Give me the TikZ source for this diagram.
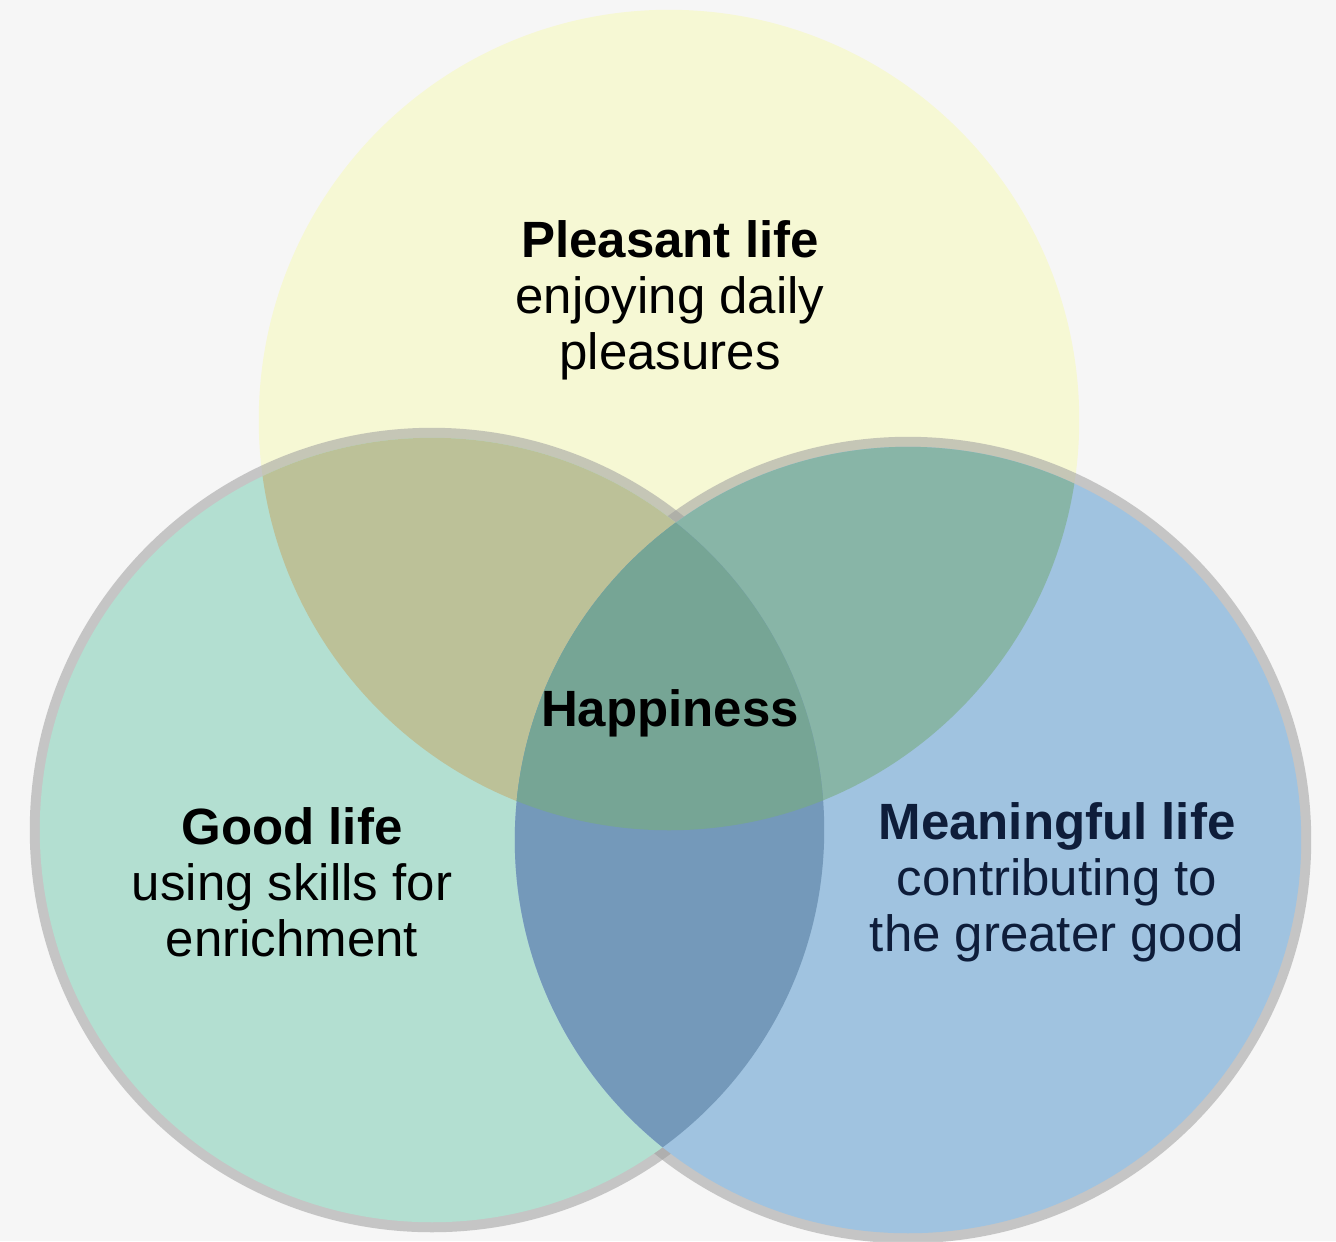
\documentclass[tikz,border=0pt]{standalone}
\usepackage{fontspec}
\setmainfont{Liberation Sans}
\usepackage{xcolor}
\usepackage{tikz}
\usetikzlibrary{positioning}

\definecolor{paper}{HTML}{F6F6F6}
\definecolor{pleasantFill}{HTML}{F6F8D4}
\definecolor{goodFill}{HTML}{B3DFD1}
\definecolor{meaningFill}{HTML}{A0C3E0}
\definecolor{pleasGood}{HTML}{BCC198}
\definecolor{pleasMean}{HTML}{88B5A7}
\definecolor{goodMean}{HTML}{7499BA}
\definecolor{allThree}{HTML}{76A595}
\definecolor{ringGray}{HTML}{9E9E9E}
\definecolor{navyText}{HTML}{0E1D3A}

\begin{document}
\begin{tikzpicture}[
  x=0.01cm, y=-0.01cm,
  lbl/.style={align=center, inner sep=1pt,
              font=\fontsize{14.5}{15.9}\selectfont},
  ring/.style={fill=ringGray, fill opacity=0.55},
]

% ================= canvas =================
\useasboundingbox[fill=paper] (0,0) rectangle (1336,1241);

\coordinate (cP) at (669,420);   % pleasant life
\coordinate (cG) at (432,830);   % good life
\coordinate (cM) at (908,840);   % meaningful life

% ================= the three sets =================
\fill[pleasantFill] (cP) circle[radius=4.10cm];

% soft grey rims under the two lower sets
\fill[ring] (cG) circle[radius=4.02cm];
\fill[ring] (cM) circle[radius=4.03cm];

\fill[goodFill]    (cG) circle[radius=3.92cm];
\fill[meaningFill] (cM) circle[radius=3.93cm];

% pairwise overlaps
\begin{scope}
  \clip (cP) circle[radius=4.10cm];
  \fill[pleasGood] (cG) circle[radius=3.92cm];
  \fill[pleasMean] (cM) circle[radius=3.93cm];
\end{scope}
\begin{scope}
  \clip (cG) circle[radius=3.92cm];
  \fill[goodMean] (cM) circle[radius=3.93cm];
  % all three
  \clip (cP) circle[radius=4.10cm];
  \fill[allThree] (cM) circle[radius=3.93cm];
\end{scope}

% ================= labels =================
\node[lbl] (pleasant) at (670,300)
  {\textbf{Pleasant life}\\enjoying daily\\pleasures};
\node[lbl] (happy) at (670,713) {\textbf{Happiness}};
\node[lbl] (good) at (292,882)
  {\textbf{Good life}\\using skills for\\enrichment};
\node[lbl, text=navyText] (meaning) at (1057,882)
  {\textbf{Meaningful life}\\contributing to\\the greater good};

\end{tikzpicture}
\end{document}
